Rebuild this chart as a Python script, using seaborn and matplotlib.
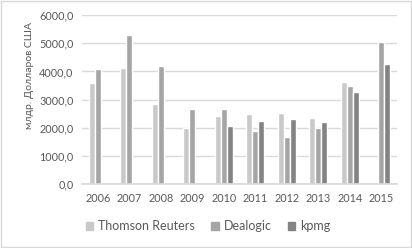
import numpy as np
import pandas as pd
import seaborn as sns
import matplotlib.pyplot as plt
from matplotlib.patches import Rectangle

# --- données ---
years = ['2006', '2007', '2008', '2009', '2010', '2011', '2012', '2013', '2014', '2015']
thomson = [3600, 4110, 2860, 2000, 2410, 2490, 2530, 2350, 3640, np.nan]
dealogic = [4090, 5290, 4180, 2680, 2680, 1900, 1690, 1985, 3490, 5050]
kpmg = [np.nan, np.nan, np.nan, np.nan, 2070, 2240, 2320, 2210, 3270, 4280]
series = ['Thomson Reuters', 'Dealogic', 'kpmg']
colors = ['#c9c9c9', '#a5a5a5', '#838383']

df = pd.DataFrame({'Год': years, series[0]: thomson, series[1]: dealogic, series[2]: kpmg})
df = df.melt(id_vars='Год', var_name='Источник', value_name='Значение')

sns.set_theme(style="white")
plt.rcParams['font.family'] = ['Lato', 'DejaVu Sans']

fig = plt.figure(figsize=(4.12, 2.48), dpi=100)
ax = fig.add_axes([82 / 412, 1 - 184.3 / 248, 315 / 412, (184.3 - 15) / 248])

sns.barplot(data=df, x='Год', y='Значение', hue='Источник', palette=colors,
            width=0.57, gap=0, saturation=1, ax=ax, legend=False)

ax.set_ylim(0, 6000)
ax.set_yticks(range(0, 6001, 1000))
ax.set_yticklabels([f'{v},0' for v in range(0, 6001, 1000)])
ax.yaxis.grid(True, color='#d9d9d9', linewidth=1)
ax.set_axisbelow(True)
for s in ['top', 'right', 'left']:
    ax.spines[s].set_visible(False)
ax.spines['bottom'].set_color('#d9d9d9')
ax.tick_params(axis='both', colors='#595959', labelsize=7.8, length=0, pad=6)
ax.set_xlabel('')
ax.set_ylabel('')

fig.text(30 / 412, 1 - 75 / 248, 'млдр. Долларов США', rotation=90, ha='center', va='center',
         fontsize=7.5, color='#595959')

# légende en bas
handles = [Rectangle((0, 0), 1, 1, color=c) for c in colors]
fig.legend(handles, series, loc='center', bbox_to_anchor=(208 / 412, 1 - 226 / 248), ncol=3,
           frameon=False, fontsize=9, labelcolor='#595959', handlelength=0.6, handleheight=0.6,
           handletextpad=0.4, columnspacing=1.3)

# cadre
fig.patches.append(Rectangle((0.003, 0.005), 0.994, 0.99, transform=fig.transFigure,
                             fill=False, edgecolor='#d9d9d9', linewidth=1))

fig.savefig('out.png', dpi=100)
